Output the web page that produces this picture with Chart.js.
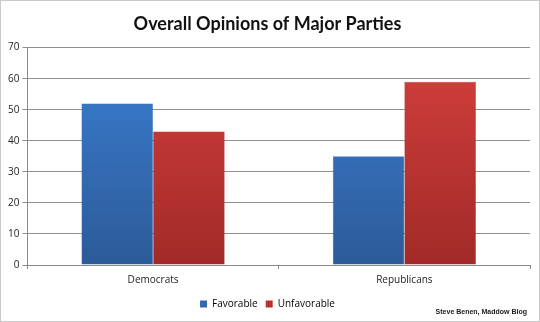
<!DOCTYPE html>
<html>
<head>
<meta charset="utf-8">
<script src="https://cdn.jsdelivr.net/npm/chart.js@4"></script>
<style>
  html, body { margin: 0; padding: 0; background: #fff; }
  #wrap { position: relative; width: 540px; height: 322px; box-sizing: border-box; border: 1px solid #c9c9c9; background: #fff; }
  canvas { display: block; }
  #credit {
    position: absolute; right: 12px; bottom: 6px;
    font: bold 7px 'Liberation Sans', Arial, sans-serif; color: #222;
  }
</style>
</head>
<body>
<div id="wrap"><canvas id="c" width="538" height="320"></canvas><div id="credit">Steve Benen, Maddow Blog</div></div>
<script>
const categories = ['Democrats', 'Republicans'];
const favorable = [52, 35];
const unfavorable = [43, 59];
const seriesNames = ['Favorable', 'Unfavorable'];
const yTicks = [0, 10, 20, 30, 40, 50, 60, 70];

// vertical shading for each bar fill
function shade(top, bottom, flat) {
  return (ctx) => {
    const chart = ctx.chart;
    const area = chart.chartArea;
    if (!area) return flat;
    const g = chart.ctx.createLinearGradient(0, area.top, 0, area.bottom);
    g.addColorStop(0, top);
    g.addColorStop(1, bottom);
    return g;
  };
}

const tickFont = { family: "'Open Sans', 'DejaVu Sans', sans-serif", size: 10 };

new Chart(document.getElementById('c'), {
  type: 'bar',
  data: {
    labels: categories,
    datasets: [
      {
        label: seriesNames[0],
        data: favorable,
        backgroundColor: shade('#3b7fd3', '#2c5a98', '#3570bb'),
        borderColor: '#3a6fb5',
        borderWidth: 0.5
      },
      {
        label: seriesNames[1],
        data: unfavorable,
        backgroundColor: shade('#d43f3c', '#a12a28', '#bf3835'),
        borderColor: '#b23532',
        borderWidth: 0.5
      }
    ]
  },
  options: {
    responsive: false,
    animation: false,
    layout: { padding: { left: 4, right: 9, top: 0, bottom: 2 } },
    datasets: { bar: { categoryPercentage: 0.57, barPercentage: 1.0 } },
    scales: {
      x: {
        offset: true,
        grid: { display: true, drawOnChartArea: false, offset: true, tickLength: 4, color: '#8a8a8a' },
        border: { display: true, color: '#8a8a8a' },
        ticks: { color: '#222', font: tickFont, padding: 5 }
      },
      y: {
        min: 0,
        max: 70,
        afterBuildTicks: (axis) => { axis.ticks = yTicks.map(v => ({ value: v })); },
        grid: { color: '#8f8f8f', tickLength: 5, lineWidth: 1 },
        border: { display: true, color: '#8a8a8a' },
        ticks: { color: '#222', font: tickFont, padding: 3 }
      }
    },
    plugins: {
      title: {
        display: true,
        text: 'Overall Opinions of Major Parties',
        color: '#111',
        font: { family: "Lato, 'Open Sans', sans-serif", size: 18, weight: 'bold' },
        padding: { top: 12, bottom: 13 }
      },
      legend: {
        position: 'bottom',
        labels: {
          boxWidth: 7,
          boxHeight: 7,
          color: '#222',
          font: tickFont,
          padding: 8,
          generateLabels: (chart) => chart.data.datasets.map((ds, i) => ({
            text: ds.label,
            fillStyle: i === 0 ? '#3567a8' : '#b83330',
            strokeStyle: i === 0 ? '#3567a8' : '#b83330',
            lineWidth: 0,
            datasetIndex: i
          }))
        }
      },
      tooltip: { enabled: false }
    }
  }
});
</script>
</body>
</html>
